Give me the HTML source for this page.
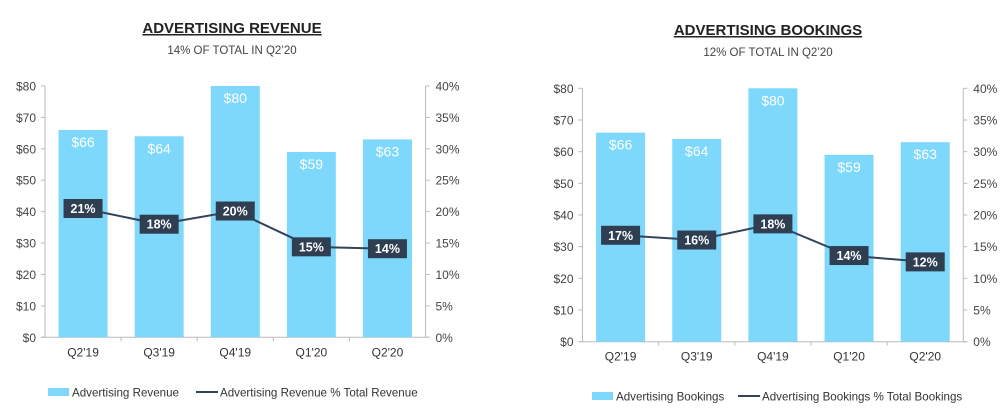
<!DOCTYPE html>
<html><head><meta charset="utf-8"><style>
body{margin:0;background:#fff;width:1000px;height:411px;overflow:hidden;font-family:"Liberation Sans",sans-serif}
svg{position:absolute;left:0;top:0}
</style></head><body>
<svg id="c" width="1000" height="411" viewBox="0 0 1000 411"></svg>
<script>
const categories=["Q2'19","Q3'19","Q4'19","Q1'20","Q2'20"];
const revValues=[66,64,80,59,63];
const revPct=[20.5,18,20.1,14.4,14.1];
const revPctLabels=["21%","18%","20%","15%","14%"];
const bookValues=[66,64,80,59,63];
const bookPct=[16.8,16.05,18.6,13.6,12.6];
const bookPctLabels=["17%","16%","18%","14%","12%"];
const leftTicks=["$0","$10","$20","$30","$40","$50","$60","$70","$80"];
const rightTicks=["0%","5%","10%","15%","20%","25%","30%","35%","40%"];
const NS="http://www.w3.org/2000/svg";
const svg=document.getElementById('c');
function el(t,a,p){const e=document.createElementNS(NS,t);for(const k in a)e.setAttribute(k,a[k]);(p||svg).appendChild(e);return e;}
function txt(s,a,p){const e=el('text',a,p);e.textContent=s;return e;}
function chart(cfg,vals,pct,pctLabels){
  const g=el('g',{});
  
  
  const x0=cfg.x0,x1=cfg.x1,yT=cfg.yT,yB=cfg.yB;
  const cw=(x1-x0)/categories.length;
  const yv=v=>yB-v/80*(yB-yT);
  const yp=v=>yB-v/40*(yB-yT);
  const cx=i=>x0+cw*(i+0.5);
  let t=txt(cfg.title,{x:cfg.tc,y:cfg.ty,'text-anchor':'middle','font-size':15,'font-weight':'bold',fill:'#222','text-decoration':'underline'},g);
  
  t=txt(cfg.sub,{x:cfg.tc,y:cfg.ty+21,'text-anchor':'middle','font-size':11.5,fill:'#444'},g);
  
  el('line',{x1:x0,y1:yT,x2:x0,y2:yB,stroke:'#bbb'},g);
  el('line',{x1:x1,y1:yT,x2:x1,y2:yB,stroke:'#bbb'},g);
  el('line',{x1:x0-4,y1:yB,x2:x1+4,y2:yB,stroke:'#bbb'},g);
  leftTicks.forEach((s,i)=>{const y=yv(i*10);el('line',{x1:x0-4,y1:y,x2:x0,y2:y,stroke:'#bbb'},g);
    const a=txt(s,{x:x0-9,y:y+4.5,'text-anchor':'end','font-size':12,fill:'#444'},g);
    });
  rightTicks.forEach((s,i)=>{const y=yp(i*5);el('line',{x1:x1,y1:y,x2:x1+4,y2:y,stroke:'#bbb'},g);
    const a=txt(s,{x:x1+10,y:y+4.5,'font-size':12,fill:'#444'},g);
    });
  for(let i=1;i<categories.length;i++)el('line',{x1:x0+cw*i,y1:yB,x2:x0+cw*i,y2:yB+4,stroke:'#bbb'},g);
  categories.forEach((c,i)=>{
    const b=el('rect',{x:cx(i)-24.5,y:yv(vals[i]),width:49,height:yB-yv(vals[i]),fill:'#7dd8fb'},g);
    
    const l=txt('$'+vals[i],{x:cx(i),y:yv(vals[i])+17,'text-anchor':'middle','font-size':14,fill:'#fff'},g);
    
    const xl=txt(c,{x:cx(i),y:yB+19,'text-anchor':'middle','font-size':12,fill:'#333'},g);
    
  });
  const pts=pct.map((v,i)=>cx(i)+','+yp(v)).join(' ');
  const pl=el('polyline',{points:pts,fill:'none',stroke:'#33445a','stroke-width':2},g);
  
  pct.forEach((v,i)=>{
    const r=el('rect',{x:cx(i)-19.5,y:yp(v)-9.5,width:39,height:19,fill:'#2f3e51'},g);
    
    const l=txt(pctLabels[i],{x:cx(i),y:yp(v)+4.5,'text-anchor':'middle','font-size':12.5,'font-weight':'bold',fill:'#fff'},g);
    
  });
  const ly=cfg.ly;
  const s1=el('rect',{x:cfg.lx,y:ly-4,width:21,height:8,fill:'#7dd8fb'},g);
  
  let a=txt(cfg.leg1,{x:cfg.lx+24,y:ly+4.5,'font-size':11.6,fill:'#333'},g);
  
  el('line',{x1:cfg.lx2,y1:ly,x2:cfg.lx2+22,y2:ly,stroke:'#33445a','stroke-width':2},g);
  a=txt(cfg.leg2,{x:cfg.lx2+24,y:ly+4.5,'font-size':11.6,fill:'#333'},g);
  
}
chart({name:'advertising-revenue-chart',x0:45,x1:425.5,yT:86,yB:337.3,title:'ADVERTISING REVENUE',sub:'14% OF TOTAL IN Q2\u201920',tc:232,ty:33,ly:392,lx:48,lx2:196,leg1:'Advertising Revenue',leg2:'Advertising Revenue % Total Revenue'},revValues,revPct,revPctLabels);
chart({name:'advertising-bookings-chart',x0:582.5,x1:963.3,yT:88.3,yB:341.7,title:'ADVERTISING BOOKINGS',sub:'12% OF TOTAL IN Q2\u201920',tc:768,ty:35,ly:396,lx:592,lx2:738,leg1:'Advertising Bookings',leg2:'Advertising Bookings % Total Bookings'},bookValues,bookPct,bookPctLabels);
</script>
</body></html>
